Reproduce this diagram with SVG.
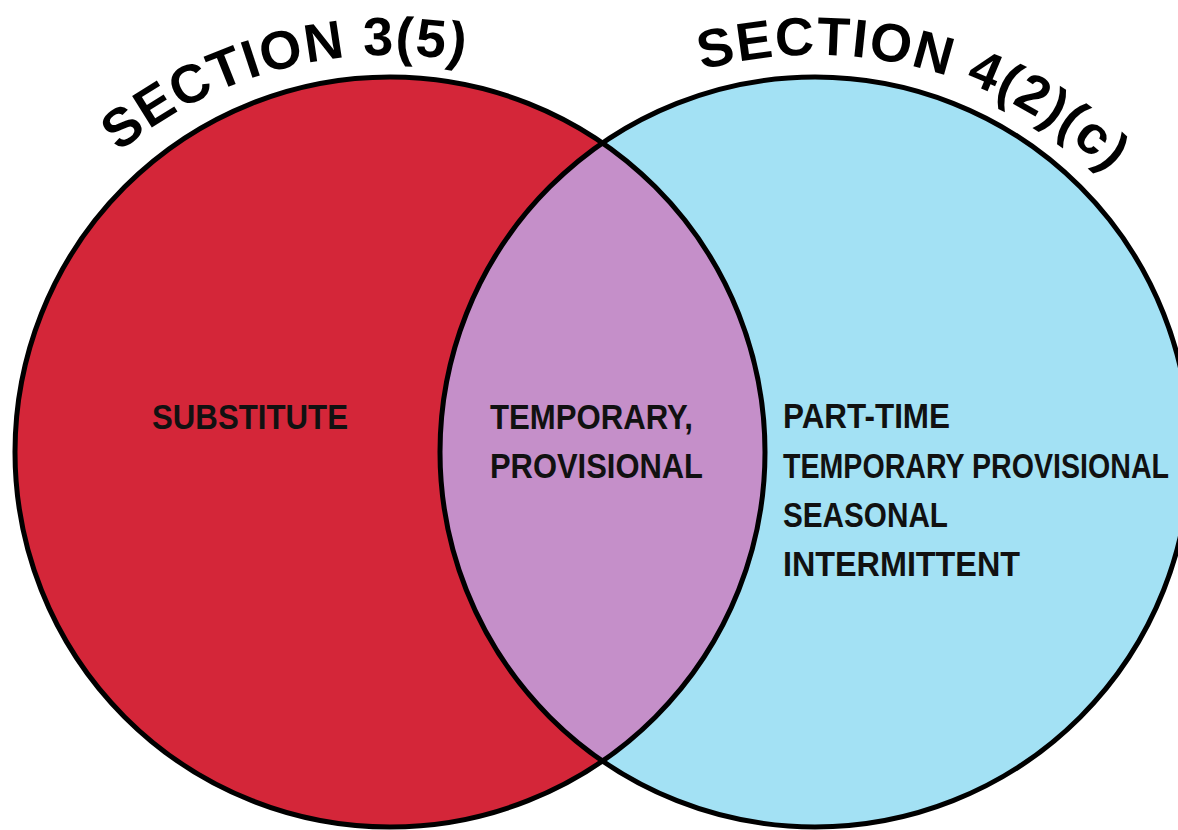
<svg xmlns="http://www.w3.org/2000/svg" width="1178" height="830" viewBox="0 0 1178 830">
  <style>
    .outline { fill: none; stroke: #000; stroke-width: 5; }
    .title { font-family: "Liberation Sans", Arial, sans-serif; font-weight: bold; font-size: 54px; fill: #000; letter-spacing: 1.5px; }
    .label { font-family: "Liberation Sans", Arial, sans-serif; font-weight: bold; font-size: 35px; fill: #111; }
  </style>
  <defs>
    <path id="arcLeft" d="M 89.5 179.5 A 425 425 0 0 1 602.5 111.9"/>
    <path id="arcRight" d="M 669.6 80.6 A 425 425 0 0 1 1140.6 206.8"/>
  </defs>
  <rect x="0" y="0" width="1178" height="830" fill="#fff"/>

  <g id="set-left">
    <circle cx="390" cy="452" r="375" fill="#D42639"/>
  </g>
  <g id="set-right">
    <circle cx="815" cy="452" r="375" fill="#A3E1F4"/>
  </g>
  <g id="intersection">
    <path d="M 602.5 142.9 A 375 375 0 0 1 602.5 761.1 A 375 375 0 0 1 602.5 142.9 Z" fill="#C58FC9"/>
  </g>
  <g id="outlines">
    <circle class="outline" cx="390" cy="452" r="375"/>
    <circle class="outline" cx="815" cy="452" r="375"/>
  </g>
  <g id="connectors"></g>

  <g id="title-left">
    <text class="title"><textPath href="#arcLeft" startOffset="40">SECTION 3(5)</textPath></text>
  </g>
  <g id="title-right">
    <text class="title"><textPath href="#arcRight" startOffset="34">SECTION 4(2)(c)</textPath></text>
  </g>

  <g id="label-left">
    <text class="label" x="152" y="429" textLength="196" lengthAdjust="spacingAndGlyphs">SUBSTITUTE</text>
  </g>
  <g id="label-middle">
    <text class="label" x="490" y="429" textLength="203" lengthAdjust="spacingAndGlyphs">TEMPORARY,</text>
    <text class="label" x="490" y="478" textLength="213" lengthAdjust="spacingAndGlyphs">PROVISIONAL</text>
  </g>
  <g id="label-right">
    <text class="label" x="783" y="428" textLength="167" lengthAdjust="spacingAndGlyphs">PART-TIME</text>
    <text class="label" x="783" y="478" textLength="386" lengthAdjust="spacingAndGlyphs">TEMPORARY PROVISIONAL</text>
    <text class="label" x="783" y="527" textLength="165" lengthAdjust="spacingAndGlyphs">SEASONAL</text>
    <text class="label" x="783" y="576" textLength="237" lengthAdjust="spacingAndGlyphs">INTERMITTENT</text>
  </g>
</svg>
